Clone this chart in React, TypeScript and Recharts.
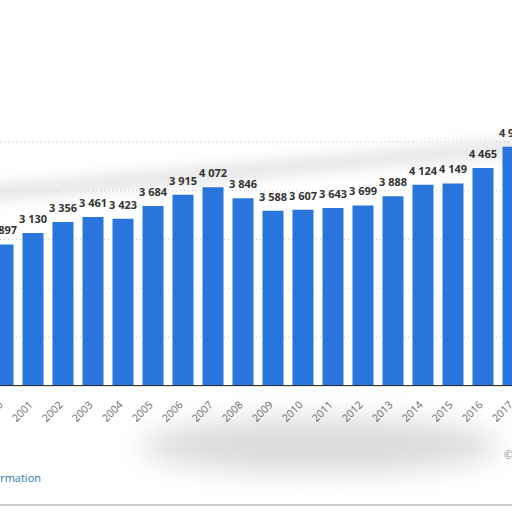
import React from "react";
import { BarChart, Bar, XAxis, YAxis, CartesianGrid, LabelList } from "recharts";

const years = ["2000","2001","2002","2003","2004","2005","2006","2007","2008","2009","2010","2011","2012","2013","2014","2015","2016","2017"];
const values = [2897,3130,3356,3461,3423,3684,3915,4072,3846,3588,3607,3643,3699,3888,4124,4149,4465,4900];
const yTicks = [0,1000,2000,3000,4000,5000];

const data = years.map((y, i) => ({ year: y, value: values[i] }));

const fmt = (v: number) => String(v).replace(/\B(?=(\d{3})+(?!\d))/g, " ");

const Tick = (props: any) => {
  const { x, y, payload } = props;
  return (
    <g transform={`translate(${x + 0.5},${y + 12})`}>
      <text x={0} y={0} textAnchor="end" transform="rotate(-45)" fontSize={10.5} fill="#6a6a6a" fontFamily="'Open Sans', sans-serif">
        {payload.value}
      </text>
    </g>
  );
};

const ValueLabel = (props: any) => {
  const { x, y, width, value } = props;
  return (
    <text x={Number(x) + Number(width) / 2} y={Number(y) - 10} textAnchor="middle" fill="#333" fontSize={11} fontWeight={700} fontFamily="'Open Sans', sans-serif">
      {fmt(Number(value))}
    </text>
  );
};

export default function App() {
  return (
    <div style={{ position: "absolute", left: 0, top: 0, width: 512, height: 512, overflow: "hidden", background: "#fff" }}>
      <div style={{ position: "absolute", left: 140, top: 418, width: 360, height: 55, borderRadius: "50%", background: "#bdbdbd", filter: "blur(14px)", opacity: 0.55 }} />
      <div style={{ position: "absolute", left: -20, top: 186, width: 560, height: 16, background: "#d0d0d0", filter: "blur(7px)", opacity: 0.55, transform: "rotate(-5deg)", transformOrigin: "0 0" }} />
      <div style={{ position: "absolute", left: -12.5, top: 82.4 }}>
        <BarChart width={540} height={383.6} data={data} margin={{ top: 60, right: 0, left: 0, bottom: 0 }} barCategoryGap="15%">
          <CartesianGrid vertical={false} stroke="#c8c8c8" strokeDasharray="1 3" />
          <YAxis hide domain={[0, 5000]} ticks={yTicks} />
          <XAxis dataKey="year" height={80} tickLine={false} axisLine={{ stroke: "#222" }} tick={<Tick />} interval={0} />
          <Bar dataKey="value" fill="#2876dc" isAnimationActive={false}>
            <LabelList dataKey="value" content={<ValueLabel />} />
          </Bar>
        </BarChart>
      </div>
      <div style={{ position: "absolute", right: 471, top: 470, fontSize: 11, color: "#2a7ab0", fontFamily: "'Open Sans', sans-serif", whiteSpace: "nowrap" }}>
        Additional Information
      </div>
      <div style={{ position: "absolute", left: 504, top: 447, fontSize: 11, color: "#888", fontFamily: "'Open Sans', sans-serif", whiteSpace: "nowrap" }}>
        © Statista 2018
      </div>
      <div style={{ position: "absolute", left: 0, top: 504, width: 512, height: 2, background: "#ccc" }} />
    </div>
  );
}
